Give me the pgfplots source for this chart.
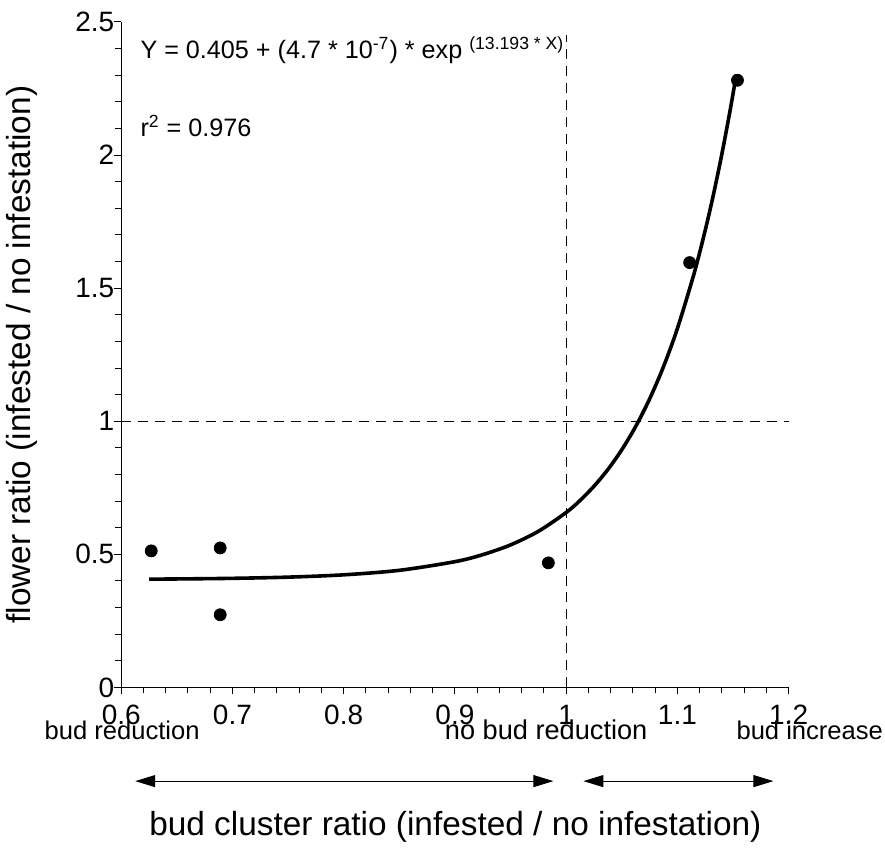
\documentclass[border=0pt]{standalone}
\usepackage{pgfplots}
\pgfplotsset{compat=1.18}
\usetikzlibrary{arrows.meta}
\usepackage{fontspec}
\setmainfont{Liberation Sans}
\begin{document}
\begin{tikzpicture}
\begin{axis}[
  scale only axis, width=334pt, height=333pt,
  xmin=0.6, xmax=1.2, ymin=0, ymax=2.5,
  axis x line*=bottom, axis y line*=left,
  axis line style={line width=0.5pt, -},
  xtick={0.6,0.7,0.8,0.9,1,1.1,1.2},
  xticklabels={0.6,0.7,0.8,0.9,1,1.1,1.2},
  ytick={0,0.5,1,1.5,2,2.5},
  yticklabels={0,0.5,1,1.5,2,2.5},
  minor x tick num=4, minor y tick num=4,
  tick align=outside, major tick length=3.5pt, minor tick length=3pt,
  tick style={black, line width=0.5pt},
  ticklabel style={font=\fontsize{14}{16}\selectfont},
  xticklabel style={anchor=base, yshift=-15pt, inner sep=1pt},
  yticklabel style={xshift=3.5pt},
  xlabel={bud cluster ratio (infested / no infestation)},
  ylabel={flower ratio (infested / no infestation)},
  label style={font=\fontsize{16.7}{19}\selectfont},
  xlabel style={at={(axis cs:0.9004,-0.524)}, anchor=center},
  ylabel style={at={(axis cs:0.511,1.25)}, anchor=center},
  clip=false,
]
% blank margin above the plot, as in the reference
\path (rel axis cs:0,1) -- ++(0pt,11pt);
% reference lines
\addplot[black, line width=0.5pt, dash pattern=on 5pt off 3.5pt] coordinates {(1,0) (1,2.45)};
\addplot[black, line width=0.5pt, dash pattern=on 5pt off 3.5pt] coordinates {(0.6,1) (1.2,1)};
% fitted curve
\addplot[black, line width=1.8pt, smooth, no markers] coordinates {
(0.625,0.4068) (0.65,0.4075) (0.7,0.4098) (0.75,0.4143) (0.8,0.4230)
(0.85,0.4399) (0.9,0.4724) (0.925,0.4988) (0.95,0.5354) (0.975,0.5864)
(1.0,0.6572) (1.0125,0.7024) (1.025,0.7558) (1.0375,0.8187) (1.05,0.8928)
(1.0625,0.9803) (1.075,1.0835) (1.0875,1.2050) (1.1,1.3485) (1.115,1.5549)
(1.125,1.7171) (1.1325,1.8534) (1.14,2.0042) (1.1475,2.1704) (1.153,2.303)
};
% data points
\addplot[only marks, mark=*, mark size=3pt, black] coordinates {
(0.627,0.513) (0.689,0.524) (0.689,0.273) (0.984,0.468) (1.111,1.596) (1.154,2.281)
};
% annotations
\node[anchor=west, font=\fontsize{12.6}{15}\selectfont] at (axis cs:0.611,2.393)
  {Y = 0.405 + (4.7 * 10\textsuperscript{-7}) * exp \textsuperscript{(13.193 * X)}};
\node[anchor=west, font=\fontsize{12.6}{15}\selectfont] at (axis cs:0.611,2.109)
  {r\textsuperscript{2} = 0.976};
\node[anchor=west, inner sep=1pt, font=\fontsize{12.8}{15}\selectfont] at (axis cs:0.529,-0.160) {bud reduction};
\node[anchor=center, inner sep=1pt, font=\fontsize{13.6}{15}\selectfont] at (axis cs:0.982,-0.160) {no bud reduction};
\node[anchor=center, inner sep=1pt, font=\fontsize{12.8}{15}\selectfont] at (axis cs:1.219,-0.160) {bud increase};
\draw[line width=0.5pt, {Triangle[length=10pt,width=6pt]}-{Triangle[length=10pt,width=6pt]}]
  (axis cs:0.6126,-0.352) -- (axis cs:0.9885,-0.352);
\draw[line width=0.5pt, {Triangle[length=10pt,width=6pt]}-{Triangle[length=10pt,width=6pt]}]
  (axis cs:1.0155,-0.352) -- (axis cs:1.1863,-0.352);
\end{axis}
\end{tikzpicture}
\end{document}
